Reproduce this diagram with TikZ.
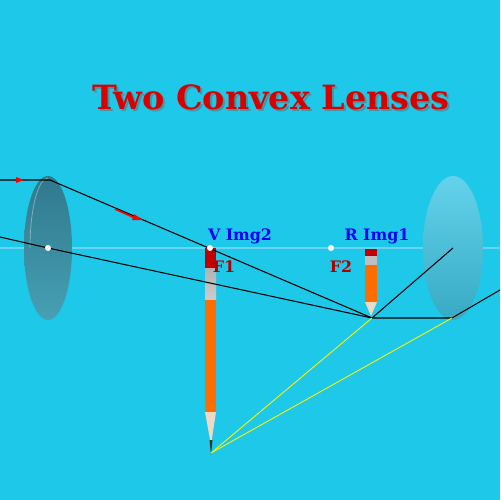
\documentclass[tikz,border=0pt]{standalone}
\usepackage{fontspec}
\setmainfont{DejaVu Serif}
\usetikzlibrary{shadings}
\begin{document}
\begin{tikzpicture}[x=0.02cm,y=-0.02cm,
  ray/.style={black,line width=0.6pt},
  yel/.style={yellow,line width=0.5pt},
  lbl/.style={font=\bfseries\small,text=blue},
  foc/.style={font=\bfseries\small,text=red!70!black},
  dot/.style={circle,fill=white,inner sep=1.2pt}]
\definecolor{bg}{RGB}{30,200,232}
\definecolor{lensA}{RGB}{48,120,140}
\definecolor{lensAb}{RGB}{70,160,180}
\definecolor{lensB}{RGB}{100,210,235}
\definecolor{lensBb}{RGB}{55,170,195}
\fill[bg] (0,0) rectangle (500,500);
\useasboundingbox (0,0) rectangle (500,500);
\draw[cyan!40!white,line width=1pt,opacity=0.6] (0,248) -- (500,248);
\node[font=\bfseries\fontsize{19}{22}\selectfont,text=black!60,opacity=0.5] at (273,99) {Two Convex Lenses};
\node (title) [font=\bfseries\fontsize{19}{22}\selectfont,text=red!85!black] at (271,97) {Two Convex Lenses};
% lenses
\shade[top color=lensA,bottom color=lensAb] (48,248) ellipse (24 and 72);
\draw[white,opacity=0.4] (30,248) arc (180:270:18 and 70);
\shade[top color=lensB,bottom color=lensBb] (453,248) ellipse (30 and 72);
% big pencil
\fill[red!75!black] (205,248) rectangle (216,268);
\shade[top color=gray!60,bottom color=gray!40] (205,268) rectangle (216,300);
\fill[orange!85!red] (205,300) rectangle (216,412);
\fill[brown!30!white] (205,412) -- (216,412) -- (211,445) -- cycle;
\fill[black!80] (209.5,440) -- (212.5,440) -- (211,455) -- cycle;
% small pencil
\fill[red!75!black] (365,249) rectangle (377,256);
\fill[gray!50] (365,256) rectangle (377,265);
\fill[orange!85!red] (365,265) rectangle (377,302);
\fill[brown!30!white] (365,302) -- (377,302) -- (371,316) -- cycle;
% coordinates
\coordinate (a0) at (0,180); \coordinate (a1) at (50,180);
\coordinate (b0) at (0,237); \coordinate (c1) at (48,248);
\coordinate (i1) at (372,318); \coordinate (c2) at (453,248);
\coordinate (l2) at (452,318); \coordinate (out) at (500,290);
\coordinate (tip) at (211,453);
\draw[ray] (a0) -- (a1) -- (i1);
\draw[ray] (b0) -- (c1) -- (i1);
\draw[ray] (i1) -- (c2);
\draw[ray] (i1) -- (l2) -- (out);
\draw[yel] (tip) -- (i1);
\draw[yel] (tip) -- (l2);
\fill[red] (16,177) -- (24,180) -- (16,183) -- cycle;
\draw[red,line width=1pt] (115,209) -- (135,218);
\fill[red] (134,214) -- (143,220) -- (132,220) -- cycle;
\node[dot] (d1) at (48,248) {};
\node[dot] (d2) at (210,248) {};
\node[dot] (d3) at (331,248) {};
\node[lbl] (v) at (240,236) {V Img2};
\node[lbl] (r) at (377,236) {R Img1};
\node[foc] (f1) at (224,267) {F1};
\node[foc] (f2) at (341,267) {F2};
\end{tikzpicture}
\end{document}
